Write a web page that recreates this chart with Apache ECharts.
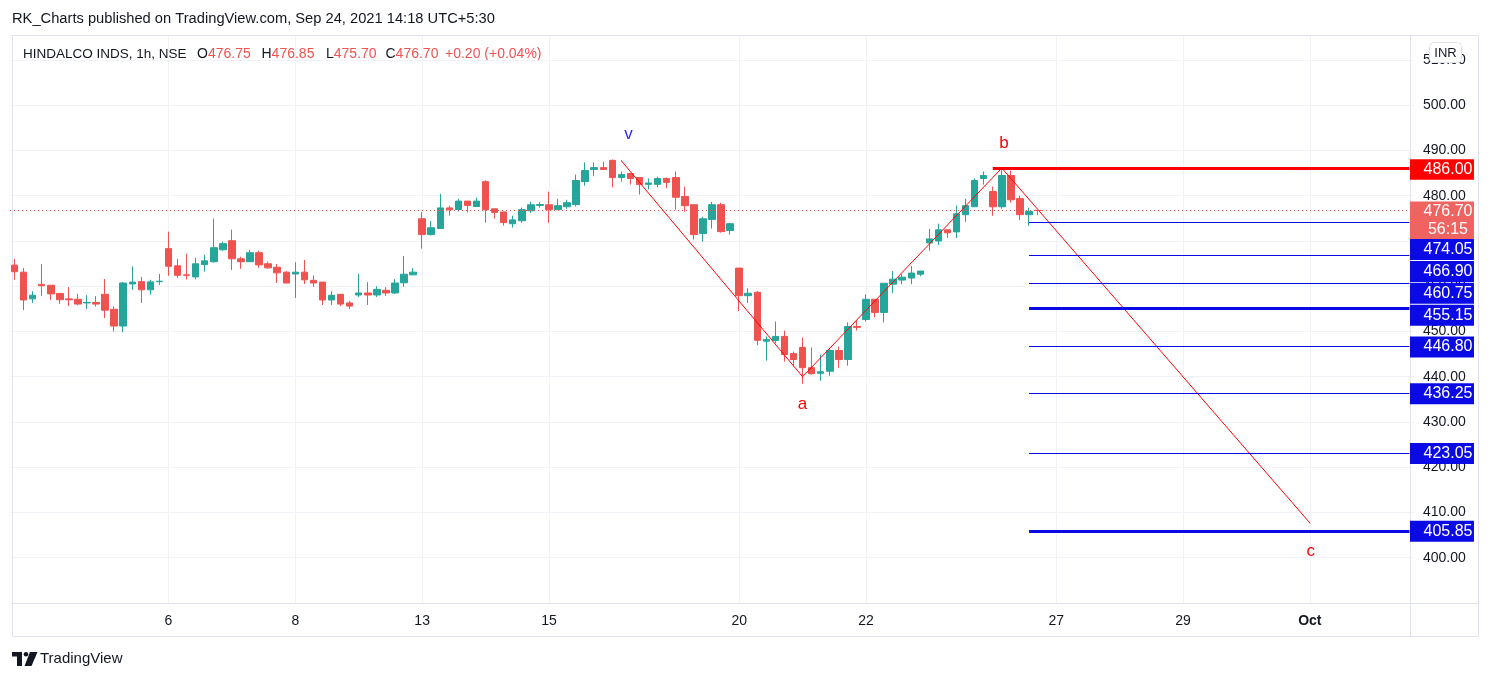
<!DOCTYPE html>
<html><head><meta charset="utf-8">
<script src="https://cdn.jsdelivr.net/npm/echarts@6/dist/echarts.min.js"></script>
<style>html,body{margin:0;padding:0;background:#fff}#c{width:1493px;height:680px}</style>
</head><body><div id="c"></div>
<script>
// ---- data ----
const tradingDays = ['Sep 01','Sep 02','Sep 03','Sep 06','Sep 07','Sep 08','Sep 09','Sep 13','Sep 14','Sep 15','Sep 16','Sep 17','Sep 20','Sep 21','Sep 22','Sep 23','Sep 24','Sep 27','Sep 28','Sep 29','Sep 30','Oct 01','Oct 04'];
const sessionHours = ['09:15','10:15','11:15','12:15','13:15','14:15','15:15'];
const firstSlot = 'Sep 01 13:15';
const slotCount = 155;
const labelDays = ['Sep 06','Sep 08','Sep 13','Sep 15','Sep 20','Sep 22','Sep 27','Sep 29','Oct 01'];
const labelTexts = ['6','8','13','15','20','22','27','29','Oct'];

const openP = [464.65,463.1,457.2,460.4,460.2,458.4,457.2,457.1,456.3,456.4,
458.2,454.9,451.2,460.5,461.0,459.2,461.0,468.3,464.5,462.5,
462.05,464.8,465.4,468.05,470.05,466.05,465.4,467.4,464.95,464.2,
463.1,462.7,463.1,461.3,460.9,456.95,458.2,456.3,458.05,458.5,
458.05,459.1,458.5,460.75,462.5,474.9,471.4,472.75,477.3,476.95,
478.8,477.6,483.1,477.1,476.4,473.8,474.45,476.65,477.85,478.0,
476.9,477.55,478.05,483.1,485.8,486.2,487.8,484.0,484.9,484.0,
482.5,482.5,483.8,484.0,479.8,478.0,471.65,474.75,478.0,472.3,
464.0,457.9,458.65,447.85,448.0,448.9,445.1,446.45,442.0,440.75,
441.2,445.8,443.8,451.1,452.65,457.1,454.2,460.45,461.35,461.8,
462.65,469.55,470.0,472.45,472.0,475.8,477.55,483.8,480.9,477.55,
484.45,479.35,475.8,476.75];
const highP = [466.0,464.0,458.9,464.9,460.3,458.5,459.8,458.3,458.0,457.8,
461.6,455.55,460.9,464.4,462.05,461.4,462.7,472.05,466.05,467.2,
466.3,466.95,474.95,469.85,472.5,466.5,468.05,467.85,465.4,464.9,
463.3,465.3,465.8,462.4,460.9,458.9,458.2,456.7,462.7,460.9,
460.0,459.8,461.55,466.65,464.0,476.4,474.4,480.4,477.8,479.3,
478.8,479.55,483.4,477.1,476.4,475.55,477.35,478.65,478.65,480.9,
479.3,479.1,484.65,487.35,487.35,487.55,488.0,485.35,484.9,484.1,
483.8,484.2,484.0,485.35,482.0,478.0,475.35,478.65,478.45,474.0,
464.0,459.55,458.9,448.9,452.2,450.2,445.55,448.65,446.45,444.9,
446.2,446.65,452.0,452.45,458.2,457.1,460.65,463.35,462.65,464.45,
463.35,472.65,473.8,472.45,477.8,479.35,483.8,485.35,482.0,486.0,
485.55,480.0,477.35,476.85];
const lowP = [461.4,454.7,456.3,457.85,457.0,456.1,455.6,455.8,455.0,455.5,
452.95,450.0,449.85,459.2,456.3,458.1,460.3,462.3,461.85,461.5,
461.5,463.2,465.2,467.85,463.6,463.85,465.4,464.05,463.85,460.7,
460.7,457.4,460.5,459.85,455.85,455.85,455.6,454.95,457.6,455.85,
457.6,457.85,458.3,459.85,462.5,468.3,471.2,472.75,475.6,476.5,
476.3,477.6,474.05,474.95,473.4,472.95,474.0,476.2,477.35,474.0,
476.9,477.1,477.6,482.2,484.3,485.8,481.85,483.1,482.45,480.25,
481.4,481.85,481.65,476.9,476.45,470.3,469.85,472.75,471.85,471.4,
454.5,456.3,446.95,443.55,447.4,443.35,442.35,438.45,440.45,439.1,
440.2,442.0,442.45,450.2,452.2,453.1,452.0,458.45,460.45,460.45,
462.2,467.8,469.1,470.65,470.65,474.2,477.55,482.45,475.55,477.1,
478.45,474.65,473.35,475.7];
const closeP = [463.2,456.95,458.0,460.1,458.3,457.0,457.0,456.05,456.4,456.05,
454.7,451.2,460.7,460.9,459.2,460.95,461.1,464.4,462.4,462.4,
464.95,465.6,468.5,469.4,466.05,465.4,467.4,464.7,464.05,462.95,
460.7,463.1,461.4,460.7,456.95,458.0,456.05,455.6,458.5,458.05,
459.3,458.5,460.7,462.65,463.1,471.4,472.9,477.3,476.9,478.8,
477.85,478.8,476.9,476.3,474.05,474.65,476.9,478.0,478.05,476.9,
477.8,478.45,483.35,485.55,486.2,485.8,484.0,484.65,483.8,482.45,
482.8,483.8,482.95,479.65,477.8,471.4,474.9,478.0,472.05,473.8,
457.9,458.45,448.05,448.2,448.9,444.9,443.8,442.0,440.65,441.1,
445.8,443.8,451.1,450.9,457.1,454.2,460.65,461.55,462.0,462.9,
463.35,470.45,472.45,471.8,476.0,477.8,483.35,484.45,477.55,484.45,
479.1,475.8,476.5,476.7];

const waveNames = ['v','a','b','c'];
const waveTimes = ['Sep 16 10:15','Sep 21 09:15','Sep 24 10:15','Oct 01 09:15'];
const wavePrices = [487.7, 440.0, 486.1, 407.7];

const lastPrice = 476.70;
const countdown = '56:15';
const peakLevel = 486.00;
const peakStart = 'Sep 24 09:15';
const fibLevels = [474.05, 466.90, 460.75, 455.15, 446.80, 436.25, 423.05, 405.85];
const fibStart = 'Sep 24 13:15';

const yTicks = {min: 390, max: 515.5, step: 10};

// ---- build ----
const categories = [];
let started = false;
for (const d of tradingDays) for (const h of sessionHours) {
  const name = d + ' ' + h;
  if (name === firstSlot) started = true;
  if (started && categories.length < slotCount) categories.push(name);
}
const lastCat = categories[categories.length - 1];
function isDayLabel(idx, val) {
  const v = val || categories[idx];
  return v.endsWith('09:15') && labelDays.indexOf(v.slice(0, 6)) >= 0;
}
const FONT = '"Liberation Sans", Arial, sans-serif';
const BLUE = '#0a0ae6', RED = '#ff0000', DOWN = '#ef5350', UP = '#26a69a', INK = '#131722';
const fibWide = {455.15: 3, 405.85: 3};
const tagShift = {474.05: 27, 466.90: 16.5, 460.75: 10.5, 455.15: 7, 446.80: 1};
const TAGX = 32.5;

const candleData = openP.map((o, i) => [o, closeP[i], lowP[i], highP[i]]);

const fibLines = [[{coord: [peakStart, peakLevel], lineStyle: {color: RED, width: 3, type: 'solid'}}, {coord: [lastCat, peakLevel]}]]
  .concat(fibLevels.map(v => [{coord: [fibStart, v], lineStyle: {color: BLUE, width: fibWide[v] || 1, type: 'solid'}}, {coord: [lastCat, v]}]));

const tagData = [{value: [lastCat, peakLevel], symbolSize: [64, 20.5], symbolOffset: [TAGX, 1], itemStyle: {color: RED}, label: {formatter: peakLevel.toFixed(2)}},
  {value: [lastCat, lastPrice], symbolSize: [64, 38], symbolOffset: [TAGX, 10], itemStyle: {color: '#ef6461'}, label: {formatter: lastPrice.toFixed(2) + '\n' + countdown, lineHeight: 18}}]
  .concat(fibLevels.map(v => ({value: [lastCat, v], symbolSize: [64, 21], symbolOffset: [TAGX, tagShift[v] || 0], itemStyle: {color: BLUE}, label: {formatter: v.toFixed(2)}})));

const waveColors = ['#2c2ce6', RED, RED, RED];
const waveOffsets = [[7, -27], [0, 28], [2, -25], [1, 28]];
const waveData = waveTimes.map((t, i) => ({
  value: [t, wavePrices[i]],
  label: {show: true, formatter: waveNames[i], color: waveColors[i], fontSize: 17, fontFamily: FONT, position: 'inside', offset: waveOffsets[i]}
}));

const legendPairs = [['O', '476.75', 197], ['H', '476.85', 261.5], ['L', '475.70', 326], ['C', '476.70', 385.5]];

const chart = echarts.init(document.getElementById('c'), null, {renderer: 'canvas'});
chart.setOption({
  animation: false,
  textStyle: {fontFamily: FONT},
  grid: {left: 10, right: 79, top: 35, bottom: 77, show: false},
  xAxis: {
    type: 'category', data: categories, boundaryGap: true,
    axisLine: {show: false}, axisTick: {show: false},
    axisLabel: {interval: isDayLabel, margin: 11, color: INK, fontSize: 14,
      formatter: v => { const t = labelTexts[labelDays.indexOf(v.slice(0, 6))]; return t === 'Oct' ? '{b|Oct}' : t; },
      rich: {b: {fontWeight: 'bold', fontSize: 14, color: INK}}},
    splitLine: {show: true, interval: isDayLabel, alignWithLabel: true, lineStyle: {color: '#f0f2f7', width: 1}}
  },
  yAxis: {
    type: 'value', position: 'right', min: yTicks.min, max: yTicks.max, interval: yTicks.step,
    axisLine: {show: false}, axisTick: {show: false},
    axisLabel: {margin: 9, color: INK, fontSize: 14, showMinLabel: false, showMaxLabel: false, formatter: v => v.toFixed(2)},
    splitLine: {lineStyle: {color: '#f0f2f7', width: 1}}
  },
  series: [
    {
      type: 'candlestick', data: candleData, barWidth: 7, z: 3,
      itemStyle: {color: UP, color0: DOWN, borderColor: UP, borderColor0: DOWN, borderWidth: 1},
      markLine: {
        silent: true, symbol: 'none', animation: false, label: {show: false},
        data: [{yAxis: lastPrice, lineStyle: {color: DOWN, type: [1, 3], width: 1}}].concat(fibLines)
      }
    },
    {
      type: 'line', data: waveData, z: 4, symbol: 'circle', symbolSize: 1,
      itemStyle: {color: RED}, lineStyle: {color: RED, width: 1}, silent: true
    },
    {
      type: 'scatter', data: tagData, symbol: 'rect', z: 6, silent: true, clip: false,
      itemStyle: {opacity: 1},
      label: {show: true, position: 'inside', offset: [6, 0], color: '#ffffff', fontSize: 16, fontFamily: FONT}
    }
  ],
  graphic: [
    {type: 'rect', z: 1, shape: {x: 12.5, y: 35.5, width: 1466, height: 601}, style: {fill: 'none', stroke: '#e0e3eb', lineWidth: 1}},
    {type: 'line', z: 1, shape: {x1: 1410.5, y1: 35, x2: 1410.5, y2: 636}, style: {stroke: '#e0e3eb', lineWidth: 1}},
    {type: 'line', z: 1, shape: {x1: 12, y1: 603.5, x2: 1478, y2: 603.5}, style: {stroke: '#e0e3eb', lineWidth: 1}},
    {type: 'text', x: 12, y: 19, style: {text: 'RK_Charts published on TradingView.com, Sep 24, 2021 14:18 UTC+5:30', fill: INK, fontSize: 14.7, fontFamily: FONT, verticalAlign: 'middle'}},
    {type: 'text', x: 23, y: 54, style: {text: 'HINDALCO INDS, 1h, NSE', fill: INK, fontSize: 13.5, fontFamily: FONT, verticalAlign: 'middle'}},
    ...legendPairs.map(p => ({type: 'text', x: p[2], y: 54, style: {text: '{k|' + p[0] + '}{v|' + p[1] + '}', fontSize: 14, fontFamily: FONT, verticalAlign: 'middle',
      rich: {k: {fill: INK, color: INK, fontSize: 14, fontFamily: FONT}, v: {fill: DOWN, color: DOWN, fontSize: 14, fontFamily: FONT}}}})),
    {type: 'text', x: 445, y: 54, style: {text: '+0.20 (+0.04%)', fill: DOWN, fontSize: 14, fontFamily: FONT, verticalAlign: 'middle'}},
    {type: 'rect', z: 100, shape: {x: 1429.5, y: 42.5, width: 32, height: 20, r: 4}, style: {fill: '#ffffff', stroke: '#e0e3eb', lineWidth: 1}},
    {type: 'text', z: 101, x: 1445.5, y: 53, style: {text: 'INR', fill: INK, fontSize: 13, fontFamily: FONT, align: 'center', verticalAlign: 'middle'}},
    {type: 'rect', shape: {x: 12, y: 652, width: 10, height: 4.5}, style: {fill: INK}},
    {type: 'rect', shape: {x: 17, y: 652, width: 5, height: 14}, style: {fill: INK}},
    {type: 'circle', shape: {cx: 26, cy: 654.3, r: 2.3}, style: {fill: INK}},
    {type: 'polygon', shape: {points: [[30, 652], [37.5, 652], [31.5, 666], [24.5, 666]]}, style: {fill: INK}},
    {type: 'text', x: 40, y: 659, style: {text: 'TradingView', fill: INK, fontSize: 15, fontFamily: FONT, verticalAlign: 'middle'}}
  ]
});
</script></body></html>
